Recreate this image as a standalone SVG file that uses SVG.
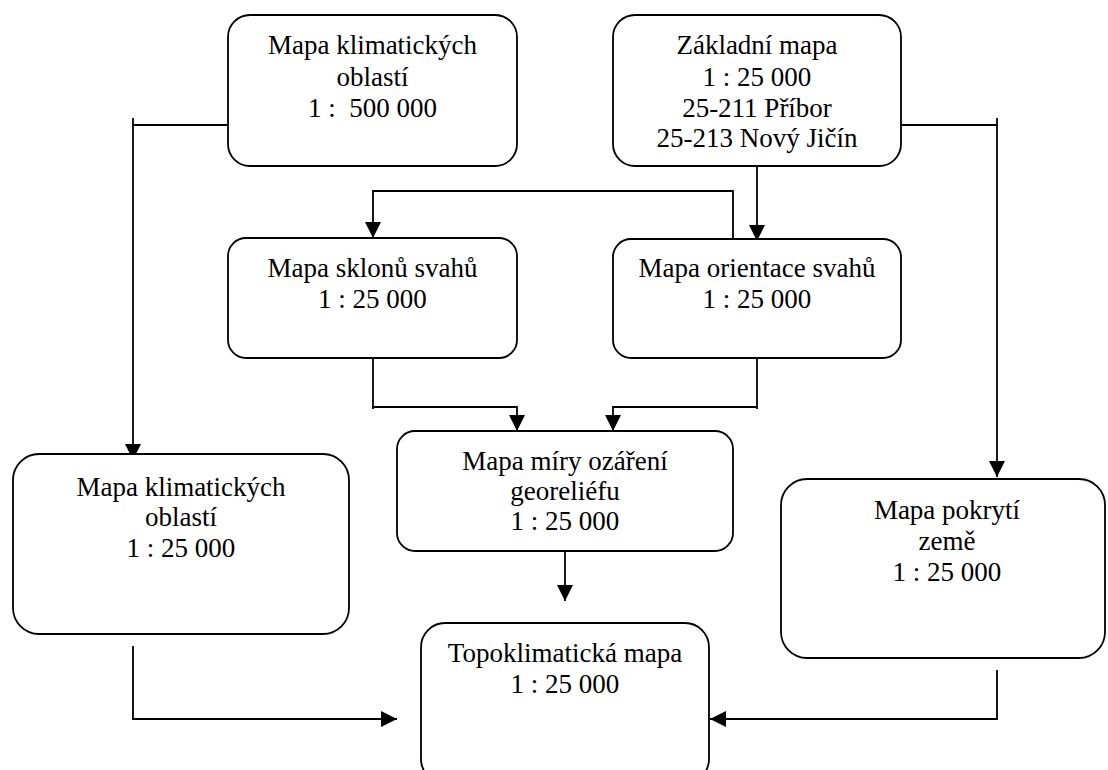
<svg xmlns="http://www.w3.org/2000/svg" width="1108" height="770" viewBox="0 0 1108 770">
<style>
.box{fill:#fff;stroke:#000;stroke-width:1.8}
.t{font-family:"Liberation Serif","Times New Roman",serif;font-size:27px;fill:#000;text-anchor:middle}
.c{fill:none;stroke:#000;stroke-width:1.8}
</style>
<defs>
<marker id="arr" markerWidth="17" markerHeight="17" refX="16" refY="8" orient="auto" markerUnits="userSpaceOnUse">
<path d="M0,0 L16,8 L0,16 z" fill="#000"/>
</marker>
</defs>
<rect width="1108" height="770" fill="#fff"/>
<g id="connectors">
<path class="c" d="M228,125 H133"/>
<path class="c" d="M133,118 V460" marker-end="url(#arr)"/>
<path class="c" d="M901,125 H997"/>
<path class="c" d="M997,118 V477" marker-end="url(#arr)"/>
<path class="c" d="M757,166 V241" marker-end="url(#arr)"/>
<path class="c" d="M733,239 V191 H373 V238" marker-end="url(#arr)"/>
<path class="c" d="M373,358 V409"/>
<path class="c" d="M373,407 H517 V431" marker-end="url(#arr)"/>
<path class="c" d="M757,358 V409"/>
<path class="c" d="M757,407 H613 V431" marker-end="url(#arr)"/>
<path class="c" d="M565,551 V601" marker-end="url(#arr)"/>
<path class="c" d="M133,646 V719 H397" marker-end="url(#arr)"/>
<path class="c" d="M997,670 V719 H710" marker-end="url(#arr)"/>
</g>
<g id="node-klima500">
<rect class="box" x="228" y="15" width="289" height="151" rx="22"/>
<text class="t" x="372.5" y="54">Mapa klimatických</text>
<text class="t" x="372.5" y="86">oblastí</text>
<text class="t" x="372.5" y="117" xml:space="preserve">1 :  500 000</text>
</g>
<g id="node-zakladni">
<rect class="box" x="613" y="15" width="288" height="151" rx="22"/>
<text class="t" x="757" y="54">Základní mapa</text>
<text class="t" x="757" y="86">1 : 25 000</text>
<text class="t" x="757" y="117">25-211 Příbor</text>
<text class="t" x="757" y="147">25-213 Nový Jičín</text>
</g>
<g id="node-sklony">
<rect class="box" x="228" y="238" width="289" height="120" rx="18"/>
<text class="t" x="372.5" y="277">Mapa sklonů svahů</text>
<text class="t" x="372.5" y="308">1 : 25 000</text>
</g>
<g id="node-orientace">
<rect class="box" x="613" y="239" width="288" height="119" rx="18"/>
<text class="t" x="757" y="277">Mapa orientace svahů</text>
<text class="t" x="757" y="308">1 : 25 000</text>
</g>
<g id="node-ozareni">
<rect class="box" x="397" y="431" width="336" height="120" rx="18"/>
<text class="t" x="565" y="470">Mapa míry ozáření</text>
<text class="t" x="565" y="500">georeliéfu</text>
<text class="t" x="565" y="530">1 : 25 000</text>
</g>
<g id="node-klima25">
<rect class="box" x="13" y="454" width="336" height="180" rx="26"/>
<text class="t" x="181" y="496">Mapa klimatických</text>
<text class="t" x="181" y="526">oblastí</text>
<text class="t" x="181" y="557">1 : 25 000</text>
</g>
<g id="node-pokryti">
<rect class="box" x="781" y="479" width="324" height="179" rx="26"/>
<text class="t" x="947" y="519">Mapa pokrytí</text>
<text class="t" x="947" y="550">země</text>
<text class="t" x="947" y="581">1 : 25 000</text>
</g>
<g id="node-topoklima">
<rect class="box" x="421" y="623" width="288" height="160" rx="24"/>
<text class="t" x="565" y="662">Topoklimatická mapa</text>
<text class="t" x="565" y="693">1 : 25 000</text>
</g>
</svg>
